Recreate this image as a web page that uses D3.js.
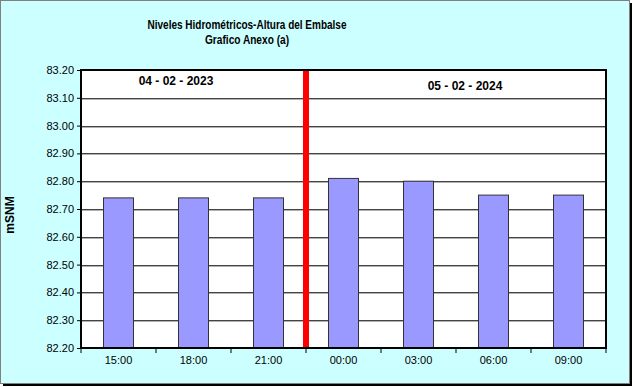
<!DOCTYPE html>
<html>
<head>
<meta charset="utf-8">
<script src="https://cdn.jsdelivr.net/npm/d3@7"></script>
<style>
  body { margin: 0; background: #fff; }
  text { font-family: "Liberation Sans", Arial, sans-serif; }
</style>
</head>
<body>
<div id="chart"></div>
<script>
// Data
const categories = ['15:00', '18:00', '21:00', '00:00', '03:00', '06:00', '09:00'];
const levels = [82.74, 82.74, 82.74, 82.81, 82.80, 82.75, 82.75];
const yTicks = [82.20, 82.30, 82.40, 82.50, 82.60, 82.70, 82.80, 82.90, 83.00, 83.10, 83.20];
const dateLabels = ['04 - 02 - 2023', '05 - 02 - 2024'];

const W = 633, H = 387;
const plot = { left: 81, top: 70, right: 606, bottom: 348 };

const svg = d3.select('#chart')
    .append('svg')
    .attr('width', W)
    .attr('height', H);

// Frame with shadow
svg.append('rect')
    .attr('x', 3).attr('y', 3)
    .attr('width', W - 4).attr('height', H - 4)
    .attr('fill', '#000');
svg.append('rect')
    .attr('x', 0.5).attr('y', 0.5)
    .attr('width', W - 4).attr('height', H - 4)
    .attr('fill', '#ccffff')
    .attr('stroke', '#808080');

// Scales
const xScale = d3.scaleBand()
    .domain(categories)
    .range([plot.left, plot.right])
    .paddingInner(0.6)
    .paddingOuter(0.3);

const yScale = d3.scaleLinear()
    .domain([82.2, 83.2])
    .range([plot.bottom, plot.top]);

// Plot area
svg.append('rect')
    .attr('x', plot.left).attr('y', plot.top)
    .attr('width', plot.right - plot.left)
    .attr('height', plot.bottom - plot.top)
    .attr('fill', '#fff');

// Gridlines (dark line with a light shadow)
const grid = svg.append('g');
grid.selectAll('.shadow')
    .data(yTicks.slice(1, -1))
    .enter()
    .append('line')
    .attr('x1', plot.left).attr('x2', plot.right)
    .attr('y1', d => Math.round(yScale(d)) + 1.5)
    .attr('y2', d => Math.round(yScale(d)) + 1.5)
    .attr('stroke', '#b0b0b0');
grid.selectAll('.major')
    .data(yTicks.slice(1, -1))
    .enter()
    .append('line')
    .attr('x1', plot.left).attr('x2', plot.right)
    .attr('y1', d => Math.round(yScale(d)) + 0.5)
    .attr('y2', d => Math.round(yScale(d)) + 0.5)
    .attr('stroke', '#444');

// Bars
svg.selectAll('.bar')
    .data(levels)
    .enter()
    .append('rect')
    .attr('class', 'bar')
    .attr('x', (d, i) => xScale(categories[i]))
    .attr('y', d => yScale(d))
    .attr('width', xScale.bandwidth())
    .attr('height', d => plot.bottom - yScale(d))
    .attr('fill', '#9999ff')
    .attr('stroke', '#333')
    .attr('stroke-width', 1);

// Red separator between the two days
const step = xScale.step();
const sepX = xScale(categories[3]) - step * 0.3;
svg.append('line')
    .attr('x1', sepX).attr('x2', sepX)
    .attr('y1', plot.top).attr('y2', plot.bottom)
    .attr('stroke', '#ff0000')
    .attr('stroke-width', 6);

// Plot border
svg.append('rect')
    .attr('x', plot.left).attr('y', plot.top)
    .attr('width', plot.right - plot.left)
    .attr('height', plot.bottom - plot.top)
    .attr('fill', 'none')
    .attr('stroke', '#000')
    .attr('stroke-width', 2);

// Y axis
const yAxis = svg.append('g')
    .attr('transform', `translate(${plot.left},0)`)
    .call(d3.axisLeft(yScale)
        .tickValues(yTicks)
        .tickSize(4)
        .tickPadding(3)
        .tickFormat(d3.format('.2f')));
yAxis.select('.domain').remove();
yAxis.selectAll('line').attr('stroke', '#000');
yAxis.selectAll('text')
    .style('font-size', '11px')
    .attr('fill', '#000');

// X axis, ticks at category boundaries
const bounds = d3.range(categories.length + 1).map(i => plot.left + i * step);
svg.append('g')
    .selectAll('line')
    .data(bounds)
    .enter()
    .append('line')
    .attr('x1', d => d).attr('x2', d => d)
    .attr('y1', plot.bottom).attr('y2', plot.bottom + 5)
    .attr('stroke', '#000');

svg.append('g')
    .selectAll('text')
    .data(categories)
    .enter()
    .append('text')
    .attr('x', d => xScale(d) + xScale.bandwidth() / 2)
    .attr('y', plot.bottom + 16)
    .attr('text-anchor', 'middle')
    .style('font-size', '11px')
    .text(d => d);

// Y axis label
svg.append('text')
    .attr('transform', 'translate(14,215) rotate(-90)')
    .attr('text-anchor', 'middle')
    .style('font-size', '12px')
    .style('font-weight', 'bold')
    .text('mSNM');

// Title (narrow bold, like the original)
svg.append('text')
    .attr('x', 247).attr('y', 29)
    .attr('text-anchor', 'middle')
    .attr('textLength', 199)
    .attr('lengthAdjust', 'spacingAndGlyphs')
    .style('font-size', '12px')
    .style('font-weight', 'bold')
    .text('Niveles Hidrométricos-Altura del Embalse');
svg.append('text')
    .attr('x', 247).attr('y', 44)
    .attr('text-anchor', 'middle')
    .attr('textLength', 84)
    .attr('lengthAdjust', 'spacingAndGlyphs')
    .style('font-size', '12px')
    .style('font-weight', 'bold')
    .text('Grafico Anexo (a)');

// Date annotations
svg.append('text')
    .attr('x', 176).attr('y', 85)
    .attr('text-anchor', 'middle')
    .style('font-size', '12px')
    .style('font-weight', 'bold')
    .text(dateLabels[0]);
svg.append('text')
    .attr('x', 465).attr('y', 90)
    .attr('text-anchor', 'middle')
    .style('font-size', '12px')
    .style('font-weight', 'bold')
    .text(dateLabels[1]);
</script>
</body>
</html>
